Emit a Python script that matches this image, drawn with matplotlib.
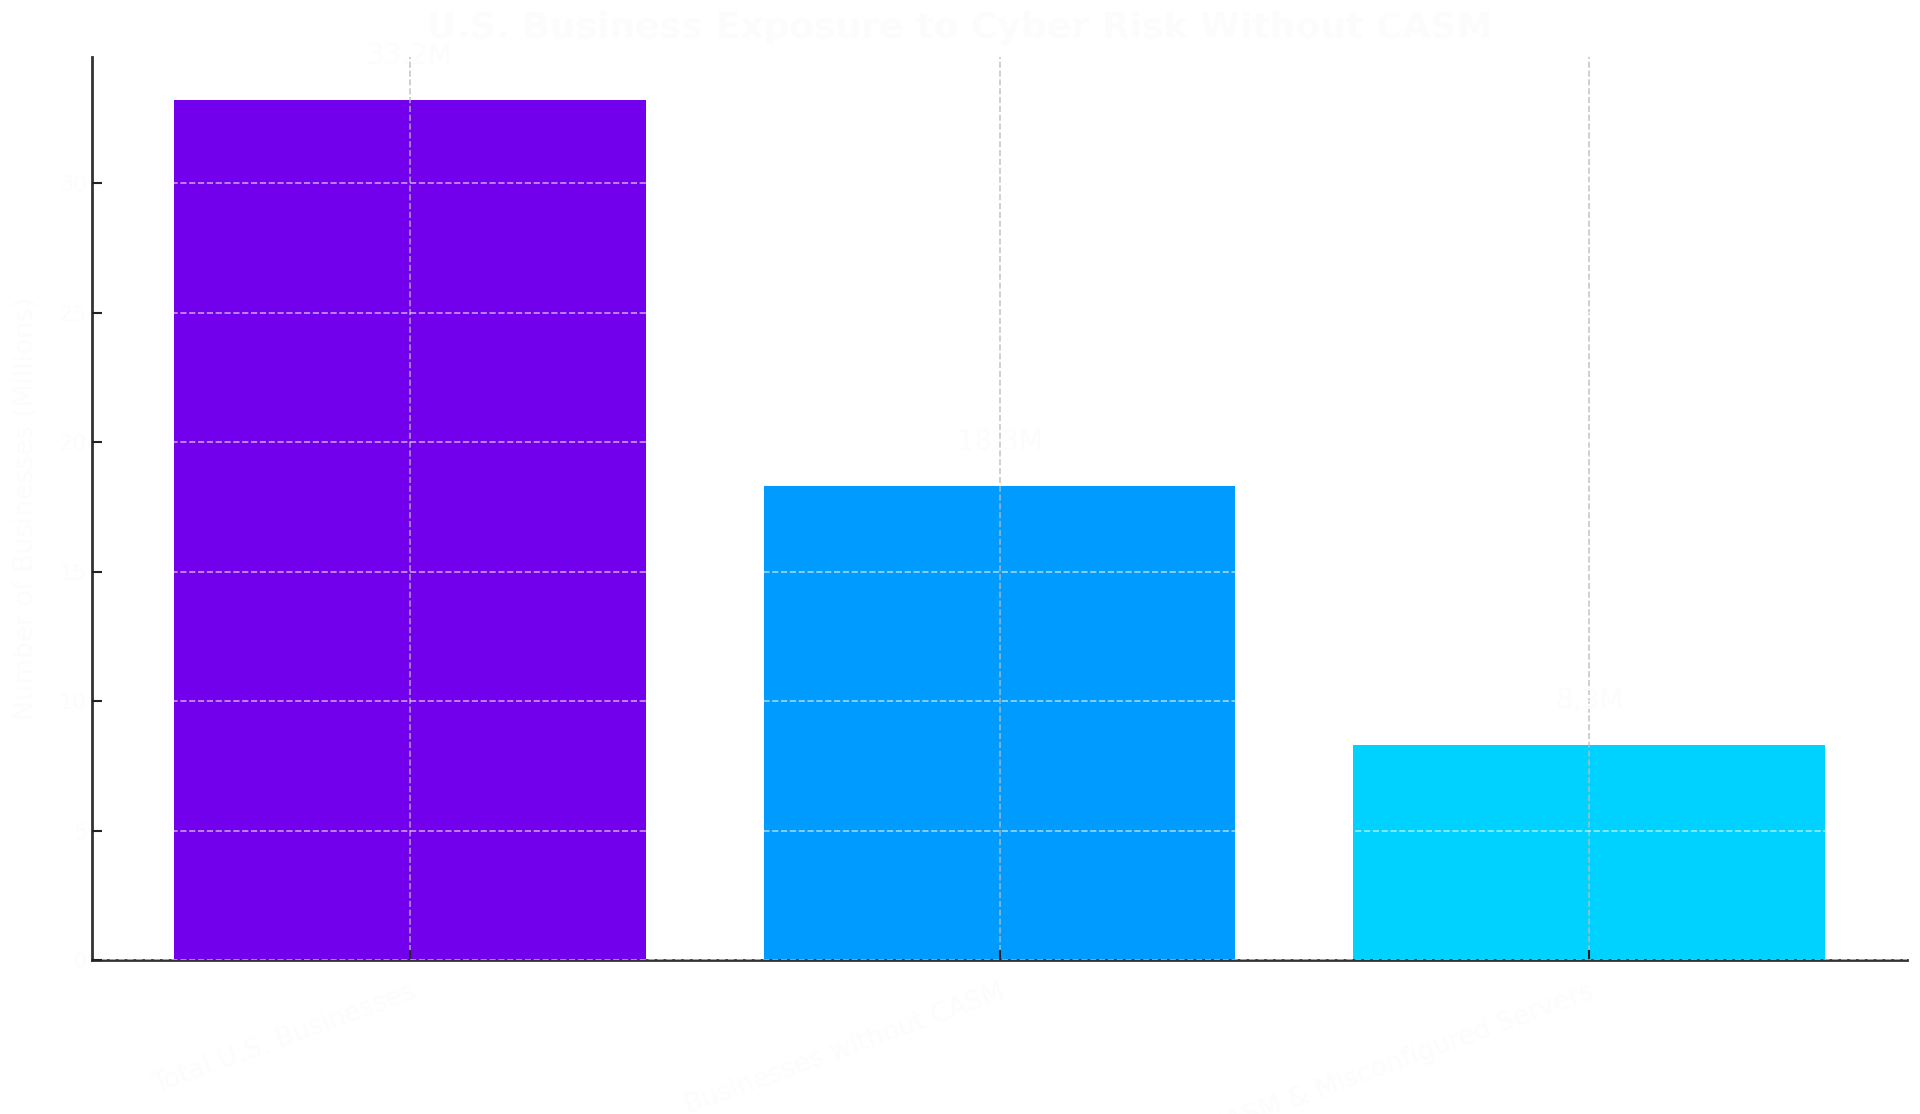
import matplotlib
matplotlib.use("Agg")
import matplotlib.pyplot as plt

categories = ["Total U.S. Businesses", "Businesses without CASM", "No CASM & Misconfigured Servers"]
values = [33.2, 18.3, 8.3]
value_labels = ["33.2M", "18.3M", "8.3M"]
colors = ["#7300ED", "#009BFF", "#00D2FF"]
yticks = [0, 5, 10, 15, 20, 25, 30]

txt = "#fcfcfc"
fig = plt.figure(figsize=(19.2, 11.14), dpi=100)
ax = fig.add_axes([92/1920, 1 - 960/1114, (1907-92)/1920, (960-57)/1114])
x = list(range(len(categories)))
ax.bar(x, values, width=0.8, color=colors, zorder=1)
for xi, v, lab in zip(x, values, value_labels):
    ax.annotate(lab, (xi, v), xytext=(0, 22), textcoords="offset points",
                ha="center", va="bottom", fontsize=20, color=txt)
ax.set_xlim(-0.54, 2.54)
ax.set_ylim(0, 34.87)
ax.set_yticks(yticks)
ax.set_yticklabels([str(t) for t in yticks], fontsize=16, color=txt)
ax.set_xticks(x)
ax.set_xticklabels(categories, rotation=20, ha="right", rotation_mode="anchor",
                   fontsize=19, color=txt)
ax.tick_params(axis="both", direction="in", length=7, width=1.5, color="#222222")
ax.tick_params(axis="x", pad=14)
ax.set_ylabel("Number of Businesses (Millions)", fontsize=19, color=txt, labelpad=14)
fig.suptitle("U.S. Business Exposure to Cyber Risk Without CASM", y=0.99,
             fontsize=26, fontweight="bold", color=txt)
ax.grid(True, axis="x", linestyle="--", color="#bbbbbb", alpha=0.8, linewidth=1.2, zorder=2)
ax.grid(True, axis="y", linestyle="--", color="#ffffff", alpha=0.6, linewidth=1.2, zorder=2)
ax.set_axisbelow(False)
for s in ["top", "right"]:
    ax.spines[s].set_visible(False)
for s in ["left", "bottom"]:
    ax.spines[s].set_color("#333333")
    ax.spines[s].set_linewidth(2)
fig.savefig("out.png", dpi=100, facecolor="white")
